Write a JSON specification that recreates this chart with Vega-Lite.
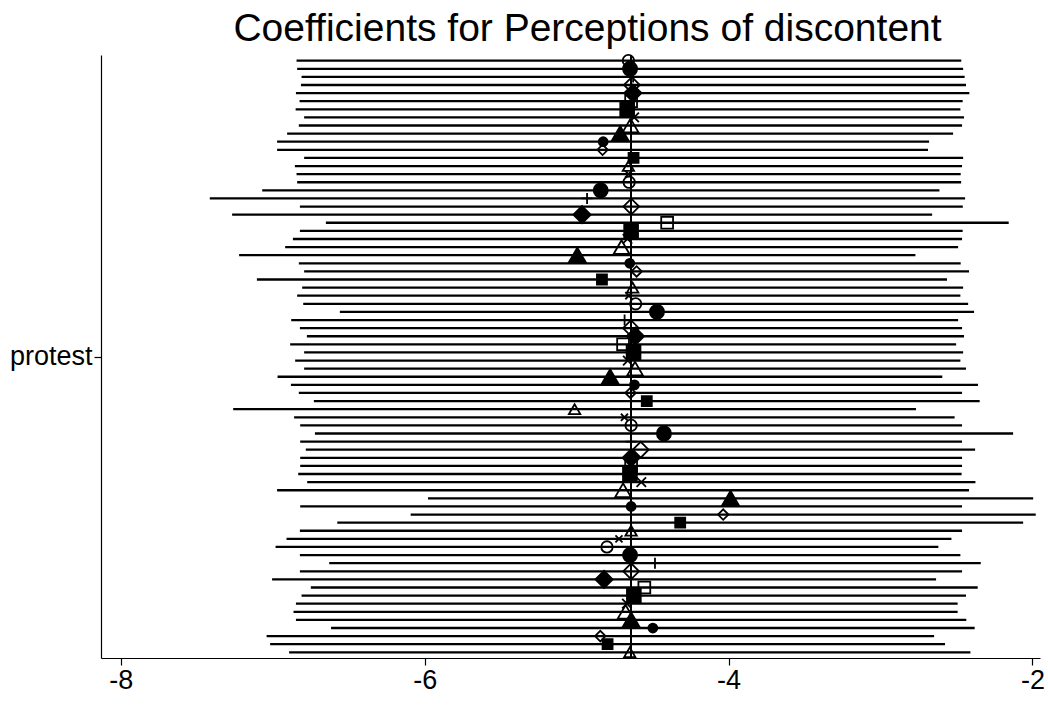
{
  "$schema": "https://vega.github.io/schema/vega-lite/v6.json",
  "autosize": {"type": "none"},
  "padding": {"left": 101, "top": 55, "right": 8, "bottom": 49},
  "width": 939,
  "height": 603,
  "background": "white",
  "title": {"text": "Coefficients for Perceptions of discontent", "font": "Liberation Sans", "fontSize": 39, "fontWeight": "normal", "color": "black", "anchor": "middle", "dx": 17, "offset": 2},
  "config": {"view": {"stroke": null}, "axis": {"grid": false, "domainColor": "black", "tickColor": "black", "labelColor": "black", "labelFont": "Liberation Sans", "domainWidth": 1.2, "tickWidth": 1.2}},
  "data": {"values": [
    {"row": 1, "est": -4.659, "lo": -6.843, "hi": -2.468, "marker": "Oh"},
    {"row": 2, "est": -4.648, "lo": -6.839, "hi": -2.456, "marker": "O"},
    {"row": 3, "est": -4.628, "lo": -6.810, "hi": -2.446, "marker": "P"},
    {"row": 4, "est": -4.636, "lo": -6.814, "hi": -2.437, "marker": "Dh"},
    {"row": 5, "est": -4.630, "lo": -6.847, "hi": -2.415, "marker": "D"},
    {"row": 6, "est": -4.641, "lo": -6.823, "hi": -2.459, "marker": "Sh"},
    {"row": 7, "est": -4.667, "lo": -6.849, "hi": -2.474, "marker": "S"},
    {"row": 8, "est": -4.621, "lo": -6.793, "hi": -2.450, "marker": "X"},
    {"row": 9, "est": -4.645, "lo": -6.828, "hi": -2.463, "marker": "Th"},
    {"row": 10, "est": -4.713, "lo": -6.905, "hi": -2.522, "marker": "T"},
    {"row": 11, "est": -4.825, "lo": -6.971, "hi": -2.680, "marker": "sfc"},
    {"row": 12, "est": -4.829, "lo": -6.971, "hi": -2.687, "marker": "shd"},
    {"row": 13, "est": -4.625, "lo": -6.793, "hi": -2.456, "marker": "sfs"},
    {"row": 14, "est": -4.659, "lo": -6.854, "hi": -2.463, "marker": "sht"},
    {"row": 15, "est": -4.658, "lo": -6.843, "hi": -2.472, "marker": "sx"},
    {"row": 16, "est": -4.654, "lo": -6.839, "hi": -2.469, "marker": "Oh"},
    {"row": 17, "est": -4.841, "lo": -7.069, "hi": -2.612, "marker": "O"},
    {"row": 18, "est": -4.931, "lo": -7.414, "hi": -2.443, "marker": "P"},
    {"row": 19, "est": -4.640, "lo": -6.821, "hi": -2.458, "marker": "Dh"},
    {"row": 20, "est": -4.964, "lo": -7.267, "hi": -2.660, "marker": "D"},
    {"row": 21, "est": -4.404, "lo": -6.650, "hi": -2.156, "marker": "Sh"},
    {"row": 22, "est": -4.641, "lo": -6.821, "hi": -2.459, "marker": "S"},
    {"row": 23, "est": -4.665, "lo": -6.867, "hi": -2.463, "marker": "X"},
    {"row": 24, "est": -4.704, "lo": -6.918, "hi": -2.489, "marker": "Th"},
    {"row": 25, "est": -4.995, "lo": -7.221, "hi": -2.770, "marker": "T"},
    {"row": 26, "est": -4.650, "lo": -6.828, "hi": -2.472, "marker": "sfc"},
    {"row": 27, "est": -4.605, "lo": -6.793, "hi": -2.417, "marker": "shd"},
    {"row": 28, "est": -4.833, "lo": -7.104, "hi": -2.562, "marker": "sfs"},
    {"row": 29, "est": -4.631, "lo": -6.806, "hi": -2.456, "marker": "sht"},
    {"row": 30, "est": -4.656, "lo": -6.839, "hi": -2.474, "marker": "sx"},
    {"row": 31, "est": -4.611, "lo": -6.799, "hi": -2.423, "marker": "Oh"},
    {"row": 32, "est": -4.471, "lo": -6.558, "hi": -2.384, "marker": "O"},
    {"row": 33, "est": -4.684, "lo": -6.878, "hi": -2.489, "marker": "P"},
    {"row": 34, "est": -4.642, "lo": -6.821, "hi": -2.463, "marker": "Dh"},
    {"row": 35, "est": -4.613, "lo": -6.775, "hi": -2.450, "marker": "D"},
    {"row": 36, "est": -4.694, "lo": -6.885, "hi": -2.502, "marker": "Sh"},
    {"row": 37, "est": -4.625, "lo": -6.793, "hi": -2.456, "marker": "S"},
    {"row": 38, "est": -4.663, "lo": -6.852, "hi": -2.474, "marker": "X"},
    {"row": 39, "est": -4.615, "lo": -6.793, "hi": -2.437, "marker": "Th"},
    {"row": 40, "est": -4.779, "lo": -6.968, "hi": -2.593, "marker": "T"},
    {"row": 41, "est": -4.619, "lo": -6.880, "hi": -2.358, "marker": "sfc"},
    {"row": 42, "est": -4.645, "lo": -6.828, "hi": -2.463, "marker": "shd"},
    {"row": 43, "est": -4.538, "lo": -6.729, "hi": -2.347, "marker": "sfs"},
    {"row": 44, "est": -5.013, "lo": -7.260, "hi": -2.766, "marker": "sht"},
    {"row": 45, "est": -4.685, "lo": -6.859, "hi": -2.512, "marker": "sx"},
    {"row": 46, "est": -4.641, "lo": -6.819, "hi": -2.463, "marker": "Oh"},
    {"row": 47, "est": -4.425, "lo": -6.722, "hi": -2.127, "marker": "O"},
    {"row": 48, "est": -4.641, "lo": -6.819, "hi": -2.463, "marker": "P"},
    {"row": 49, "est": -4.578, "lo": -6.782, "hi": -2.377, "marker": "Dh"},
    {"row": 50, "est": -4.641, "lo": -6.819, "hi": -2.463, "marker": "D"},
    {"row": 51, "est": -4.641, "lo": -6.819, "hi": -2.463, "marker": "Sh"},
    {"row": 52, "est": -4.649, "lo": -6.832, "hi": -2.466, "marker": "S"},
    {"row": 53, "est": -4.574, "lo": -6.773, "hi": -2.375, "marker": "X"},
    {"row": 54, "est": -4.694, "lo": -6.971, "hi": -2.417, "marker": "Th"},
    {"row": 55, "est": -3.987, "lo": -5.978, "hi": -1.995, "marker": "T"},
    {"row": 56, "est": -4.641, "lo": -6.819, "hi": -2.463, "marker": "sfc"},
    {"row": 57, "est": -4.035, "lo": -6.092, "hi": -1.978, "marker": "shd"},
    {"row": 58, "est": -4.318, "lo": -6.575, "hi": -2.061, "marker": "sfs"},
    {"row": 59, "est": -4.641, "lo": -6.821, "hi": -2.463, "marker": "sht"},
    {"row": 60, "est": -4.721, "lo": -6.909, "hi": -2.533, "marker": "sx"},
    {"row": 61, "est": -4.800, "lo": -6.981, "hi": -2.619, "marker": "Oh"},
    {"row": 62, "est": -4.648, "lo": -6.821, "hi": -2.474, "marker": "O"},
    {"row": 63, "est": -4.484, "lo": -6.628, "hi": -2.340, "marker": "P"},
    {"row": 64, "est": -4.641, "lo": -6.821, "hi": -2.463, "marker": "Dh"},
    {"row": 65, "est": -4.819, "lo": -7.004, "hi": -2.634, "marker": "D"},
    {"row": 66, "est": -4.554, "lo": -6.749, "hi": -2.360, "marker": "Sh"},
    {"row": 67, "est": -4.623, "lo": -6.810, "hi": -2.437, "marker": "S"},
    {"row": 68, "est": -4.669, "lo": -6.847, "hi": -2.492, "marker": "X"},
    {"row": 69, "est": -4.677, "lo": -6.863, "hi": -2.492, "marker": "Th"},
    {"row": 70, "est": -4.641, "lo": -6.847, "hi": -2.435, "marker": "T"},
    {"row": 71, "est": -4.498, "lo": -6.616, "hi": -2.380, "marker": "sfc"},
    {"row": 72, "est": -4.844, "lo": -7.040, "hi": -2.647, "marker": "shd"},
    {"row": 73, "est": -4.796, "lo": -7.017, "hi": -2.575, "marker": "sfs"},
    {"row": 74, "est": -4.650, "lo": -6.892, "hi": -2.408, "marker": "sht"}
  ]},
  "layer": [
    {
      "mark": {"type": "rule", "color": "black", "strokeWidth": 2.3},
      "encoding": {
        "x": {"field": "lo", "type": "quantitative", "scale": {"domain": [-8.13, -1.95], "nice": false, "zero": false},
              "axis": {"values": [-8, -6, -4, -2], "labelExpr": "'' + datum.value", "title": null, "labelFontSize": 27, "tickSize": 7, "labelPadding": 2}},
        "x2": {"field": "hi"},
        "y": {"field": "row", "type": "quantitative", "scale": {"domain": [0.3, 74.7], "nice": false, "zero": false, "reverse": true},
              "axis": {"values": [37.5], "labelExpr": "'protest'", "title": null, "labelFontSize": 27, "tickSize": 7, "labelPadding": 2}}
      }
    },
    {
      "mark": {"type": "rule", "color": "black", "strokeWidth": 1.6},
      "encoding": {"x": {"datum": -4.641, "type": "quantitative"}}
    },
    {
      "mark": {"type": "point", "stroke": "black", "strokeWidth": 1.8, "opacity": 1},
      "encoding": {
        "x": {"field": "est", "type": "quantitative"},
        "y": {"field": "row", "type": "quantitative"},
        "shape": {"field": "marker", "type": "nominal", "legend": null,
                  "scale": {"domain": ["Oh", "O", "P", "Dh", "D", "Sh", "S", "X", "Th", "T", "sfc", "shd", "sfs", "sht", "sx"],
                            "range": ["circle", "circle", "M-1,0L1,0M0,-1L0,1", "diamond", "diamond", "square", "square", "M-1,-1L1,1M-1,1L1,-1", "triangle-up", "triangle-up", "circle", "diamond", "square", "triangle-up", "M-1,-1L1,1M-1,1L1,-1"]}},
        "fill": {"field": "marker", "type": "nominal", "legend": null,
                 "scale": {"domain": ["Oh", "O", "P", "Dh", "D", "Sh", "S", "X", "Th", "T", "sfc", "shd", "sfs", "sht", "sx"],
                           "range": ["transparent", "black", "transparent", "transparent", "black", "transparent", "black", "transparent", "transparent", "black", "black", "transparent", "black", "transparent", "transparent"]}},
        "size": {"field": "marker", "type": "nominal", "legend": null,
                 "scale": {"type": "ordinal", "domain": ["Oh", "O", "P", "Dh", "D", "Sh", "S", "X", "Th", "T", "sfc", "shd", "sfs", "sht", "sx"],
                           "range": [130, 200, 121, 250, 300, 140, 190, 90, 250, 300, 80, 110, 100, 130, 50]}}
      }
    }
  ]
}
